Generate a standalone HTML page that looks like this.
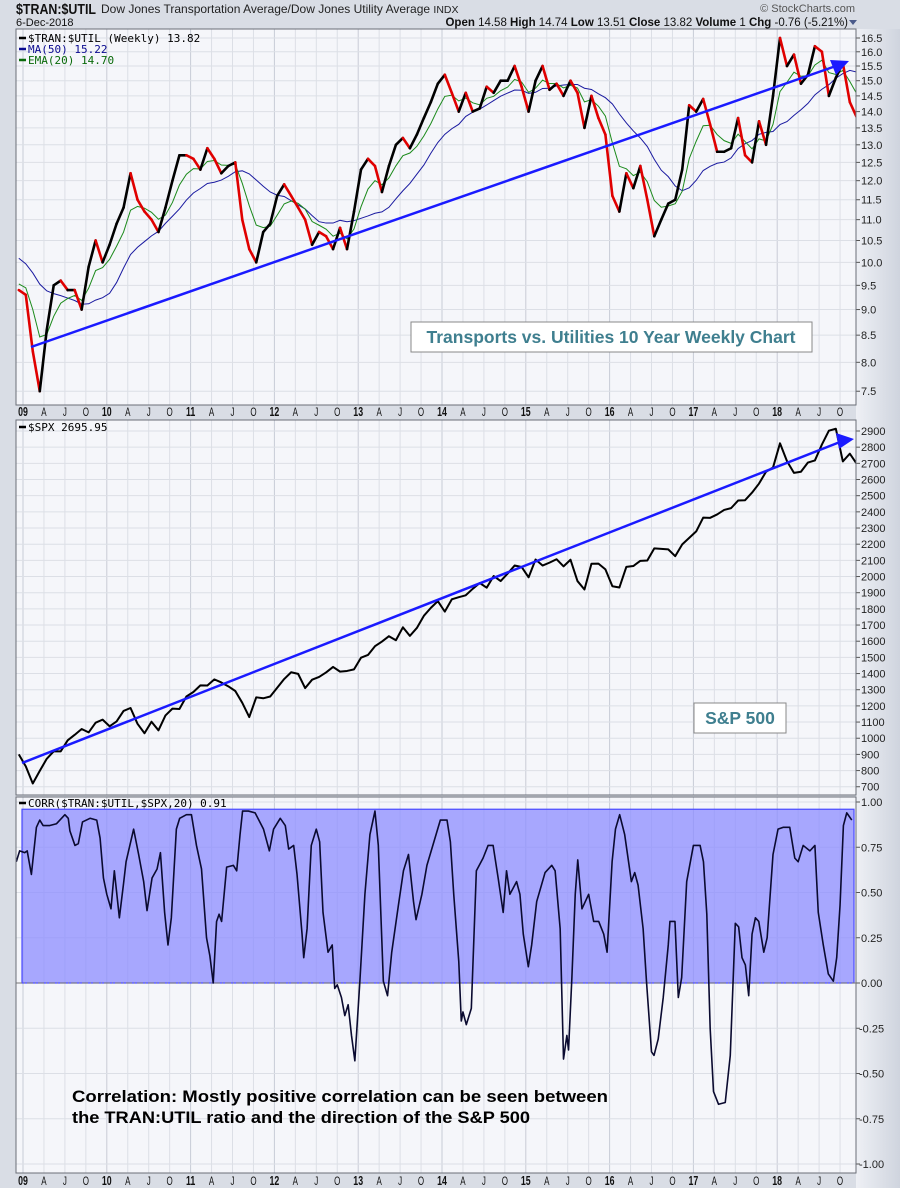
<!DOCTYPE html>
<html><head><meta charset="utf-8">
<style>
html,body{margin:0;padding:0;background:#d9dde5;}
svg{display:block;font-family:"Liberation Sans",sans-serif;}
</style></head>
<body>
<svg id="chart" width="900" height="1188" viewBox="0 0 900 1188" xmlns="http://www.w3.org/2000/svg">
<defs>
<linearGradient id="axbg" x1="0" x2="1" y1="0" y2="0"><stop offset="0" stop-color="#eef0f5"/><stop offset="1" stop-color="#cfd4de"/></linearGradient>
<clipPath id="c1"><rect x="16" y="29" width="840" height="376"/></clipPath>
<clipPath id="c2"><rect x="16" y="420" width="840" height="375"/></clipPath>
<clipPath id="c3"><rect x="16" y="797" width="840" height="376"/></clipPath>
</defs>
<rect x="0" y="0" width="900" height="1188" fill="#d9dde5"/>
<rect x="856" y="29" width="44" height="1159" fill="url(#axbg)"/>
<g>
<text x="16" y="14" font-size="15" font-weight="bold" fill="#111" textLength="80" lengthAdjust="spacingAndGlyphs">$TRAN:$UTIL</text>
<text x="101" y="13" font-size="12" fill="#222">Dow Jones Transportation Average/Dow Jones Utility Average <tspan font-size="10.5">INDX</tspan></text>
<text x="16" y="26" font-size="11" fill="#111">6-Dec-2018</text>
<text x="855" y="12" font-size="11" fill="#555" text-anchor="end">© StockCharts.com</text>
<text x="848" y="26" font-size="11.5" fill="#111" text-anchor="end"><tspan font-weight="bold">Open</tspan> 14.58 <tspan font-weight="bold">High</tspan> 14.74 <tspan font-weight="bold">Low</tspan> 13.51 <tspan font-weight="bold">Close</tspan> 13.82 <tspan font-weight="bold">Volume</tspan> 1 <tspan font-weight="bold">Chg</tspan> -0.76 (-5.21%)</text>
<path d="M849,20 L857,20 L853,25 Z" fill="#4a5a8a"/>
</g>
<g id="p1"></g>
<g id="p2"></g>
<g id="p3"></g>
</svg>
<script>
// ===== data =====
// monthly closes of $TRAN:$UTIL, Dec 2008 .. Dec 2018
const ratioValues = [9.4,
 9.3,8.2,7.5,8.6,9.5,9.6,9.4,9.4,9.0,9.9,10.5,10.0,
 10.4,10.9,11.3,12.2,11.5,11.2,11.0,10.7,11.3,12.0,12.7,12.7,
 12.6,12.3,12.9,12.6,12.2,12.4,12.5,11.0,10.3,10.0,10.7,10.9,
 11.6,11.9,11.6,11.3,11.0,10.4,10.7,10.6,10.3,10.8,10.3,11.2,
 12.3,12.6,12.4,11.7,12.4,13.0,13.2,12.9,13.3,13.8,14.3,14.9,
 15.2,14.6,14.0,14.6,14.0,14.1,14.8,14.6,15.0,15.0,15.5,14.8,
 14.0,15.0,15.5,14.7,14.9,14.5,15.0,14.6,13.5,14.5,13.8,13.3,
 11.6,11.2,12.2,11.8,12.4,11.5,10.6,11.0,11.4,11.5,12.3,14.2,
 14.0,14.4,13.6,12.8,12.8,12.9,13.8,12.7,12.5,13.7,13.0,14.5,
 16.5,15.5,15.9,14.9,15.2,16.2,16.0,14.5,15.1,15.6,14.3,13.82];
const ratioHistory = [10.8,10.6,10.4,10.3,10.2,10.1,10.0,10.0,9.9,9.8,9.6]; // prior months for MA seed
const spxValues = [900,
 826,720,798,873,919,919,987,1021,1057,1036,1096,1115,
 1074,1104,1169,1187,1089,1031,1102,1049,1141,1183,1181,1258,
 1286,1327,1326,1364,1345,1321,1292,1219,1131,1253,1247,1258,
 1312,1366,1408,1398,1310,1362,1379,1407,1441,1412,1416,1426,
 1498,1515,1569,1598,1631,1606,1686,1633,1682,1757,1806,1848,
 1783,1859,1872,1884,1924,1960,1931,2003,1972,2018,2068,2059,
 1995,2105,2068,2086,2107,2063,2104,1972,1920,2079,2080,2044,
 1940,1932,2060,2065,2097,2099,2174,2171,2168,2126,2199,2239,
 2279,2364,2363,2384,2412,2423,2470,2472,2519,2575,2648,2674,
 2824,2714,2641,2648,2705,2718,2816,2902,2914,2712,2760,2696];
const corrDates = [
 2008.92,2008.96,2009.02,2009.05,2009.10,2009.16,2009.20,2009.24,2009.32,2009.40,2009.50,2009.54,2009.56,2009.62,2009.66,2009.71,2009.80,2009.88,2009.92,2009.96,
 2010.00,2010.05,2010.09,2010.15,2010.20,2010.23,2010.32,2010.38,2010.44,2010.48,2010.54,2010.60,2010.64,2010.69,2010.73,2010.77,2010.83,2010.87,2010.95,
 2011.01,2011.07,2011.13,2011.19,2011.23,2011.27,2011.31,2011.34,2011.37,2011.43,2011.51,2011.55,2011.59,2011.62,2011.69,2011.77,2011.87,2011.94,2011.99,
 2012.07,2012.13,2012.17,2012.23,2012.27,2012.33,2012.35,2012.39,2012.44,2012.50,2012.54,2012.58,2012.64,2012.69,2012.72,2012.75,2012.80,2012.84,2012.88,2012.92,2012.96,
 2013.02,2013.08,2013.14,2013.20,2013.24,2013.30,2013.35,2013.40,2013.48,2013.54,2013.60,2013.66,2013.69,2013.76,2013.82,2013.98,
 2014.06,2014.10,2014.14,2014.20,2014.23,2014.25,2014.29,2014.35,2014.41,2014.49,2014.55,2014.61,2014.67,2014.73,2014.77,2014.81,2014.89,2014.93,2014.97,
 2015.03,2015.07,2015.13,2015.23,2015.31,2015.35,2015.41,2015.45,2015.49,2015.51,2015.55,2015.59,2015.62,2015.67,2015.75,2015.81,2015.87,2015.93,2015.97,
 2016.03,2016.07,2016.12,2016.18,2016.26,2016.30,2016.34,2016.40,2016.44,2016.50,2016.53,2016.58,2016.64,2016.70,2016.72,2016.78,2016.82,2016.86,2016.92,
 2017.00,2017.08,2017.12,2017.16,2017.20,2017.24,2017.30,2017.38,2017.44,2017.50,2017.54,2017.58,2017.62,2017.66,2017.70,2017.74,2017.78,2017.84,2017.88,2017.95,
 2018.01,2018.07,2018.15,2018.21,2018.25,2018.31,2018.39,2018.45,2018.49,2018.55,2018.61,2018.67,2018.71,2018.75,2018.79,2018.83,2018.89];
const corrValues = [
 .67,.73,.72,.73,.60,.86,.90,.87,.87,.88,.93,.91,.84,.76,.77,.89,.91,.90,.80,.58,
 .49,.41,.62,.36,.55,.67,.85,.71,.56,.40,.58,.63,.72,.39,.21,.36,.85,.91,.93,
 .93,.76,.63,.25,.15,.00,.34,.38,.34,.64,.65,.62,.82,.95,.95,.94,.85,.73,.85,
 .91,.87,.74,.76,.60,.27,.14,.30,.76,.85,.78,.39,.17,.21,-.03,-.01,-.08,-.18,-.12,-.29,-.43,
 .01,.49,.82,.95,.76,.01,-.07,.17,.43,.62,.71,.45,.35,.49,.65,.90,
 .90,.78,.49,.12,-.21,-.16,-.23,-.14,.62,.69,.76,.76,.58,.39,.62,.49,.56,.49,.27,
 .09,.21,.45,.61,.65,.62,.30,-.42,-.29,-.37,.03,.49,.68,.41,.49,.34,.34,.27,.17,
 .67,.85,.93,.82,.56,.61,.54,.30,.01,-.38,-.40,-.31,-.08,.21,.34,.34,-.08,.03,.56,
 .76,.76,.67,.38,-.25,-.60,-.67,-.66,-.40,.33,.31,.14,.10,-.07,.27,.36,.34,.17,.25,.71,
 .85,.86,.86,.69,.67,.76,.73,.76,.39,.21,.05,.01,.14,.43,.87,.94,.90];
const ratioTicks = [16.5,16.0,15.5,15.0,14.5,14.0,13.5,13.0,12.5,12.0,11.5,11.0,10.5,10.0,9.5,9.0,8.5,8.0,7.5];
const spxTicks = [2900,2800,2700,2600,2500,2400,2300,2200,2100,2000,1900,1800,1700,1600,1500,1400,1300,1200,1100,1000,900,800,700];
const corrTicks = [1.00,0.75,0.50,0.25,0.00,-0.25,-0.50,-0.75,-1.00];
const yearLabels = ["09","10","11","12","13","14","15","16","17","18"];
const quarterLabels = ["A","J","O"];

// ===== axes =====
const NS="http://www.w3.org/2000/svg";
const xOf = t => 23 + (t-2009)*83.8;
const monthT = i => 2009 + (i-1+0.4)/12;
const y1 = v => 38 + Math.log(16.5/v)*448;
const y2 = v => 431 + (2900-v)*0.1617;
const y3 = v => 983 - v*181;
function el(tag, attrs, parent){const e=document.createElementNS(NS,tag);for(const k in attrs)e.setAttribute(k,attrs[k]);parent.appendChild(e);return e;}
const p1=document.getElementById('p1'),p2=document.getElementById('p2'),p3=document.getElementById('p3');

function panel(g, top, bottom, ticks, yf, fmt){
  const bg=el('rect',{x:16,y:top,width:840,height:bottom-top,fill:'#f5f6fa'},g);
  
  
  for(let q=0;q<40;q++){
    const t=2009+q*0.25, x=xOf(t);
    const gl=el('line',{x1:x,x2:x,y1:top,y2:bottom,stroke:q%4===0?'#c8ccd6':'#dcdfe6','stroke-width':1},g);
    
    
  }
  ticks.forEach(v=>{
    const y=yf(v);
    const hl=el('line',{x1:16,x2:856,y1:y,y2:y,stroke:'#dcdfe6','stroke-width':1},g);
    
    
    el('line',{x1:856,x2:860,y1:y,y2:y,stroke:'#555'},g);
    const tx=el('text',{x:fmt(v).startsWith('-')?859:861,y:y+4,'font-size':11,fill:'#222'},g);
    tx.textContent=fmt(v);
    
    
  });
}
function frame(g,top,bottom){
  const f=el('rect',{x:16,y:top,width:840,height:bottom-top,fill:'none',stroke:'#6a6e78','stroke-width':1},g);
  
  
}
function xLabels(g,y){
  for(let yr=0;yr<10;yr++){
    for(let q=0;q<4;q++){
      const x=xOf(2009+yr+q*0.25);
      const tx=el('text',{x:x,y:y,'font-size':q===0?11:10,'font-weight':q===0?'bold':'normal',fill:'#111','text-anchor':'middle',transform:`translate(${x},${y}) scale(0.8,1.15) translate(${-x},${-y})`},g);
      tx.textContent=q===0?yearLabels[yr]:quarterLabels[q-1];
      
      
    }
  }
}
function legend(g,x,y,text,color){
  el('line',{x1:x,x2:x+7,y1:y-4,y2:y-4,stroke:color,'stroke-width':2.5},g);
  const t=el('text',{x:x+9,y:y,'font-size':11,fill:color,'font-family':'"DejaVu Sans Mono","Liberation Mono",monospace'},g);
  t.textContent=text;
  
  
  return t;
}

// ===== panel 1: ratio =====
panel(p1,29,405,ratioTicks,y1,v=>v.toFixed(1));
const g1=el('g',{'clip-path':'url(#c1)'},p1);
const full=ratioHistory.concat(ratioValues);
const maPts=[], emaPts=[];
let ema=ratioHistory[ratioHistory.length-1];
const alpha=2/(4.6+1);
ratioValues.forEach((v,i)=>{
  const j=i+ratioHistory.length;
  const win=full.slice(Math.max(0,j-11),j+1);
  const ma=win.reduce((a,b)=>a+b,0)/win.length;
  ema=ema+alpha*(v-ema);
  maPts.push(xOf(monthT(i))+','+y1(ma));
  emaPts.push(xOf(monthT(i))+','+y1(ema));
});
const maLine=el('polyline',{points:maPts.join(' '),fill:'none',stroke:'#1a1aa0','stroke-width':1},g1);


const emaLine=el('polyline',{points:emaPts.join(' '),fill:'none',stroke:'#1b8a1b','stroke-width':1},g1);


for(let i=1;i<ratioValues.length;i++){
  const up=ratioValues[i]>=ratioValues[i-1];
  const s=el('line',{x1:xOf(monthT(i-1)),y1:y1(ratioValues[i-1]),x2:xOf(monthT(i)),y2:y1(ratioValues[i]),stroke:up?'#000':'#e00000','stroke-width':2.6,'stroke-linecap':'round'},g1);
  
  
}
const tl1=el('line',{x1:31,y1:347,x2:836,y2:66,stroke:'#1a1aff','stroke-width':2.5},g1);


const ar1=el('path',{d:'M849,61 L830,60 L836,75 Z',fill:'#1a1aff'},g1);


frame(p1,29,405);
legend(p1,19,42,'$TRAN:$UTIL (Weekly) 13.82','#000');
legend(p1,19,53,'MA(50) 15.22','#0a0a90');
legend(p1,19,64,'EMA(20) 14.70','#0a6a0a');
const box1=el('rect',{x:411,y:322,width:401,height:30,fill:'#fff',stroke:'#888','stroke-width':1},p1);


const bt1=el('text',{x:611,y:343,'font-size':17.5,'font-weight':'bold',fill:'#3f7f8f','text-anchor':'middle'},p1);
bt1.textContent='Transports vs. Utilities 10 Year Weekly Chart';


xLabels(p1,416);

// ===== panel 2: SPX =====
panel(p2,420,795,spxTicks,y2,v=>String(v));
const g2=el('g',{'clip-path':'url(#c2)'},p2);
const spxLine=el('polyline',{points:spxValues.map((v,i)=>xOf(monthT(i))+','+y2(v)).join(' '),fill:'none',stroke:'#000','stroke-width':2,'stroke-linejoin':'round'},g2);


const tl2=el('line',{x1:22,y1:763,x2:840,y2:442,stroke:'#1a1aff','stroke-width':2.5},g2);


const ar2=el('path',{d:'M854,439 L836,433 L839,449 Z',fill:'#1a1aff'},g2);


frame(p2,420,795);
legend(p2,19,431,'$SPX 2695.95','#000');
const box2=el('rect',{x:694,y:703,width:92,height:30,fill:'#fff',stroke:'#888','stroke-width':1},p2);


const bt2=el('text',{x:740,y:724,'font-size':17.5,'font-weight':'bold',fill:'#3f7f8f','text-anchor':'middle'},p2);
bt2.textContent='S&P 500';



// ===== panel 3: correlation =====
panel(p3,797,1173,corrTicks,y3,v=>v.toFixed(2));
const g3=el('g',{'clip-path':'url(#c3)'},p3);
const band=el('rect',{x:22,y:y3(0.96),width:832,height:y3(0)-y3(0.96),fill:'#8c8cff','fill-opacity':0.75,stroke:'#4a4aff','stroke-width':1.2},g3);


const zl=el('line',{x1:16,x2:856,y1:y3(0),y2:y3(0),stroke:'#777','stroke-dasharray':'6,2,1,2'},g3);


const corrLine=el('polyline',{points:corrDates.map((d,i)=>xOf(d)+','+y3(corrValues[i])).join(' '),fill:'none',stroke:'#0a0a30','stroke-width':1.6,'stroke-linejoin':'round'},g3);


frame(p3,797,1173);
legend(p3,19,807,'CORR($TRAN:$UTIL,$SPX,20) 0.91','#000');
const n1=el('text',{x:72,y:1102,'font-size':17,'font-weight':'bold',fill:'#000',textLength:536,lengthAdjust:'spacingAndGlyphs'},p3);
n1.textContent='Correlation:  Mostly positive correlation can be seen between';


const n2=el('text',{x:72,y:1123,'font-size':17,'font-weight':'bold',fill:'#000',textLength:458,lengthAdjust:'spacingAndGlyphs'},p3);
n2.textContent='the TRAN:UTIL ratio and the direction of the S&P 500';


xLabels(p3,1185);
</script>
</body></html>
